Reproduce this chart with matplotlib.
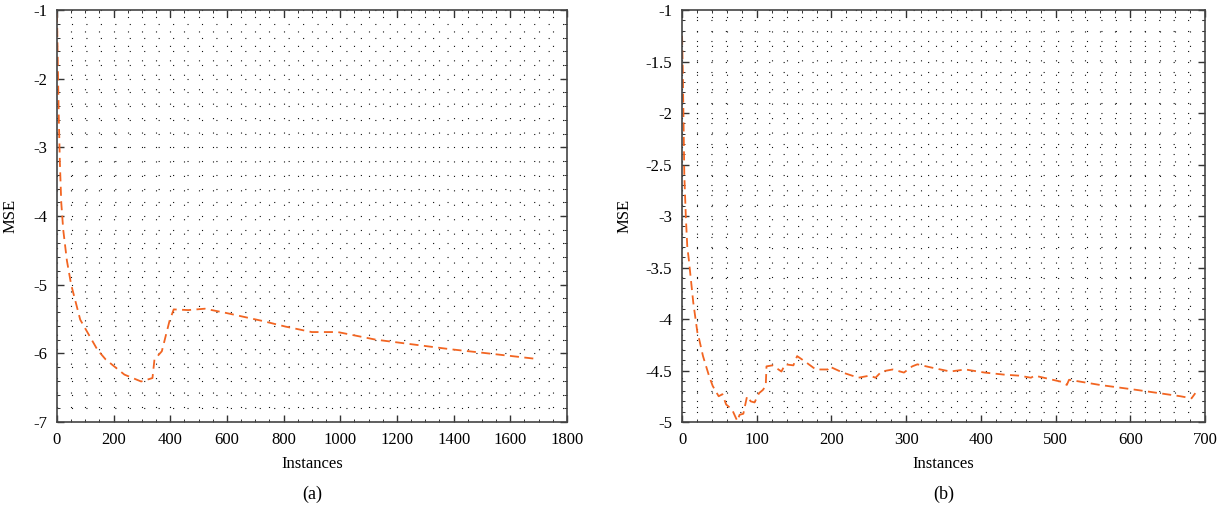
import numpy as np
import matplotlib.pyplot as plt
from matplotlib.ticker import MultipleLocator

plt.rcParams['font.family'] = ['Liberation Serif', 'DejaVu Serif']
plt.rcParams['axes.unicode_minus'] = False

# panel (a)
xa = [0, 3, 6, 10, 15, 22, 35, 50, 82, 143, 172, 238, 297, 337, 344, 370, 397,
      412, 463, 522, 595, 727, 806, 899, 991, 1124, 1256, 1388, 1520, 1690]
ya = [-1.05, -1.8, -2.5, -3.2, -3.8, -4.2, -4.65, -5.0, -5.51, -5.95, -6.09, -6.31,
      -6.41, -6.36, -6.09, -5.97, -5.53, -5.36, -5.37, -5.35, -5.41, -5.53, -5.61,
      -5.69, -5.69, -5.80, -5.87, -5.94, -6.0, -6.08]

# panel (b)
xb = [0, 1, 2, 3, 5, 7, 9, 15, 20.5, 23, 28, 36, 41, 49, 54, 59, 67, 72, 74, 77,
      82, 87, 92, 97, 103, 108, 112, 113, 121, 133, 138, 149, 154, 164, 179, 195,
      197, 215, 236, 251, 259, 267, 282, 297, 308, 315, 333, 359, 379, 405, 431,
      451, 467, 472, 508, 515, 518, 559, 610, 667, 682, 687]
yb = [-1.25, -1.6, -2.1, -2.6, -3.0, -3.3, -3.42, -3.84, -4.13, -4.20, -4.36, -4.55,
      -4.65, -4.75, -4.73, -4.83, -4.88, -4.96, -4.99, -4.93, -4.92, -4.75, -4.80,
      -4.81, -4.72, -4.69, -4.65, -4.46, -4.45, -4.51, -4.44, -4.45, -4.36, -4.41,
      -4.49, -4.49, -4.46, -4.52, -4.57, -4.55, -4.57, -4.51, -4.49, -4.52, -4.46,
      -4.44, -4.47, -4.51, -4.49, -4.52, -4.54, -4.55, -4.57, -4.55, -4.61, -4.64,
      -4.59, -4.64, -4.69, -4.75, -4.77, -4.72]

orange = '#f26522'

fig = plt.figure(figsize=(12.23, 5.13), dpi=100)
ax1 = fig.add_axes([0.0466, 0.1774, 0.417, 0.803])
ax2 = fig.add_axes([0.5577, 0.1774, 0.4276, 0.803])


def style(ax, xlim, ylim, xmaj, xmin, ymaj, ymin):
    ax.set_xlim(*xlim)
    ax.set_ylim(*ylim)
    ax.xaxis.set_major_locator(MultipleLocator(xmaj))
    ax.xaxis.set_minor_locator(MultipleLocator(xmin))
    ax.yaxis.set_major_locator(MultipleLocator(ymaj))
    ax.yaxis.set_minor_locator(MultipleLocator(ymin))
    ax.grid(which='both', color='#111111', linestyle=(0, (1, 12)), linewidth=0.8)
    ax.tick_params(which='both', direction='in', top=True, right=True,
                   labelsize=12, color='#333333', pad=7)
    ax.tick_params(which='major', length=5, width=1)
    ax.tick_params(which='minor', length=2.5, width=0.7)
    for s in ax.spines.values():
        s.set_color('#444444')
        s.set_linewidth(1.2)
    ax.set_xlabel('Instances', fontsize=12, labelpad=6)
    ax.set_ylabel('MSE', fontsize=12, labelpad=6)


ax1.plot(xa, ya, color=orange, linestyle=(0, (5, 3)), linewidth=1.3)
style(ax1, (0, 1800), (-7, -1), 200, 50, 1, 0.2)
ax1.yaxis.set_label_coords(-0.075, 0.5)

ax2.plot(xb, yb, color=orange, linestyle=(0, (5, 3)), linewidth=1.3)
style(ax2, (0, 700), (-5, -1), 100, 20, 0.5, 0.1)
ax2.set_yticks(np.arange(-5, -0.9, 0.5))
ax2.set_yticklabels(['-5', '-4.5', '-4', '-3.5', '-3', '-2.5', '-2', '-1.5', '-1'])
ax2.yaxis.set_label_coords(-0.095, 0.5)

fig.text(0.255, 0.028, '(a)', fontsize=13, ha='center')
fig.text(0.772, 0.028, '(b)', fontsize=13, ha='center')

fig.savefig('out.png', dpi=100)
